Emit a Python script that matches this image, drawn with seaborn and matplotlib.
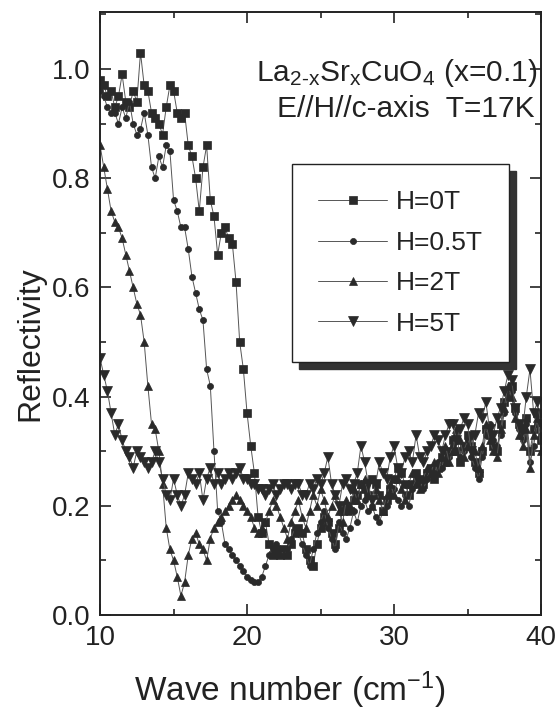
import matplotlib
matplotlib.use("Agg")
import matplotlib.pyplot as plt
import seaborn as sns
import pandas as pd
from matplotlib.ticker import MultipleLocator

# ---------------- data ----------------
wavenumber = [
    10.0, 10.25, 10.5, 10.75, 11.0, 11.25, 11.5, 11.75, 12.0, 12.25, 12.5, 12.75,
    13.0, 13.25, 13.5, 13.75, 14.0, 14.25, 14.5, 14.75, 15.0, 15.25, 15.5, 15.75,
    16.0, 16.25, 16.5, 16.75, 17.0, 17.25, 17.5, 17.75, 18.0, 18.25, 18.5, 18.75,
    19.0, 19.25, 19.5, 19.75, 20.0, 20.25, 20.5, 20.75, 21.0, 21.25, 21.5, 21.75,
    22.0, 22.25, 22.5, 22.75, 23.0, 23.25, 23.5, 23.75, 24.0, 24.25, 24.5, 24.75,
    25.0, 25.25, 25.5, 25.75, 26.0, 26.25, 26.5, 26.75, 27.0, 27.25, 27.5, 27.75,
    28.0, 28.25, 28.5, 28.75, 29.0, 29.25, 29.5, 29.75, 30.0, 30.25, 30.5, 30.75,
    31.0, 31.25, 31.5, 31.75, 32.0, 32.25, 32.5, 32.75, 33.0, 33.25, 33.5, 33.75,
    34.0, 34.25, 34.5, 34.75, 35.0, 35.25, 35.5, 35.75, 36.0, 36.25, 36.5, 36.75,
    37.0, 37.25, 37.5, 37.75, 38.0, 38.25, 38.5, 38.75, 39.0, 39.25, 39.5, 39.75,
    40.0,
]

refl_0T = [
    0.98, 0.97, 0.95, 0.96, 0.93, 0.95, 0.99, 0.94, 0.93, 0.96, 0.94, 1.03,
    0.97, 0.96, 0.92, 0.91, 0.90, 0.88, 0.93, 0.97, 0.96, 0.92, 0.91, 0.92,
    0.86, 0.84, 0.80, 0.74, 0.82, 0.86, 0.76, 0.73, 0.66, 0.70, 0.71, 0.69,
    0.68, 0.61, 0.50, 0.45, 0.37, 0.31, 0.26, 0.18, 0.15, 0.17, 0.13, 0.11,
    0.12, 0.11, 0.12, 0.11, 0.13, 0.15, 0.16, 0.15, 0.12, 0.10, 0.09, 0.13,
    0.16, 0.18, 0.17, 0.15, 0.13, 0.16, 0.19, 0.20, 0.19, 0.21, 0.22, 0.24,
    0.23, 0.22, 0.25, 0.24, 0.22, 0.19, 0.21, 0.23, 0.25, 0.27, 0.26, 0.24,
    0.22, 0.24, 0.26, 0.25, 0.24, 0.26, 0.27, 0.25, 0.27, 0.29, 0.28, 0.30,
    0.32, 0.30, 0.28, 0.31, 0.33, 0.31, 0.28, 0.26, 0.30, 0.34, 0.33, 0.31,
    0.30, 0.35, 0.39, 0.41, 0.42, 0.38, 0.35, 0.33, 0.36, 0.30, 0.34, 0.37,
    0.32,
]

refl_05T = [
    0.96, 0.95, 0.93, 0.92, 0.92, 0.90, 0.93, 0.91, 0.94, 0.90, 0.88, 0.89,
    0.92, 0.88, 0.82, 0.80, 0.84, 0.82, 0.86, 0.85, 0.76, 0.74, 0.71, 0.71,
    0.67, 0.62, 0.59, 0.56, 0.54, 0.45, 0.42, 0.30, 0.19, 0.17, 0.13, 0.12,
    0.11, 0.10, 0.09, 0.08, 0.07, 0.065, 0.06, 0.06, 0.07, 0.09, 0.11, 0.12,
    0.13, 0.12, 0.11, 0.12, 0.14, 0.16, 0.15, 0.13, 0.11, 0.09, 0.12, 0.15,
    0.17, 0.19, 0.16, 0.14, 0.12, 0.17, 0.15, 0.14, 0.16, 0.19, 0.17, 0.20,
    0.21, 0.19, 0.20, 0.18, 0.17, 0.19, 0.20, 0.22, 0.23, 0.21, 0.20, 0.22,
    0.20, 0.23, 0.25, 0.24, 0.23, 0.25, 0.27, 0.26, 0.28, 0.27, 0.30, 0.29,
    0.31, 0.33, 0.29, 0.30, 0.32, 0.29, 0.27, 0.25, 0.29, 0.33, 0.35, 0.32,
    0.31, 0.33, 0.37, 0.40, 0.41, 0.37, 0.34, 0.32, 0.35, 0.28, 0.31, 0.35,
    0.33,
]

refl_2T = [
    0.86, 0.82, 0.78, 0.74, 0.72, 0.71, 0.69, 0.66, 0.63, 0.60, 0.57, 0.55,
    0.50, 0.42, 0.35, 0.34, 0.30, 0.24, 0.16, 0.12, 0.10, 0.07, 0.035, 0.06,
    0.11, 0.14, 0.15, 0.13, 0.12, 0.10, 0.14, 0.16, 0.17, 0.18, 0.19, 0.20,
    0.21, 0.22, 0.21, 0.20, 0.19, 0.18, 0.16, 0.15, 0.16, 0.17, 0.19, 0.21,
    0.20, 0.18, 0.16, 0.14, 0.17, 0.19, 0.21, 0.18, 0.16, 0.19, 0.22, 0.20,
    0.23, 0.21, 0.18, 0.20, 0.22, 0.19, 0.17, 0.21, 0.20, 0.23, 0.21, 0.24,
    0.25, 0.22, 0.20, 0.23, 0.21, 0.19, 0.22, 0.24, 0.22, 0.25, 0.23, 0.21,
    0.24, 0.26, 0.24, 0.23, 0.25, 0.27, 0.26, 0.28, 0.26, 0.29, 0.31, 0.28,
    0.30, 0.34, 0.32, 0.29, 0.31, 0.33, 0.30, 0.27, 0.31, 0.35, 0.32, 0.30,
    0.29, 0.34, 0.38, 0.42, 0.40, 0.36, 0.33, 0.31, 0.34, 0.27, 0.33, 0.36,
    0.30,
]

refl_5T = [
    0.47, 0.44, 0.41, 0.37, 0.33, 0.35, 0.32, 0.30, 0.29, 0.27, 0.30, 0.29,
    0.28, 0.27, 0.28, 0.30, 0.28, 0.25, 0.22, 0.21, 0.25, 0.22, 0.20, 0.22,
    0.26, 0.25, 0.24, 0.26, 0.21, 0.25, 0.27, 0.24, 0.26, 0.24, 0.25, 0.26,
    0.25, 0.26, 0.27, 0.25, 0.25, 0.24, 0.24, 0.23, 0.23, 0.22, 0.23, 0.24,
    0.22, 0.23, 0.24, 0.24, 0.23, 0.24, 0.24, 0.22, 0.22, 0.24, 0.23, 0.25,
    0.24, 0.26, 0.29, 0.24, 0.22, 0.20, 0.24, 0.25, 0.23, 0.24, 0.26, 0.31,
    0.28, 0.24, 0.21, 0.24, 0.28, 0.26, 0.25, 0.29, 0.31, 0.27, 0.26, 0.29,
    0.30, 0.28, 0.33, 0.29, 0.28, 0.30, 0.31, 0.33, 0.32, 0.30, 0.33, 0.35,
    0.35, 0.32, 0.34, 0.36, 0.35, 0.30, 0.33, 0.37, 0.36, 0.39, 0.34, 0.33,
    0.36, 0.38, 0.41, 0.44, 0.43, 0.38, 0.35, 0.34, 0.40, 0.45, 0.37, 0.39,
    0.35,
]

series_labels = ["H=0T", "H=0.5T", "H=2T", "H=5T"]
series_values = [refl_0T, refl_05T, refl_2T, refl_5T]
series_markers = ["s", "o", "^", "v"]
series_msize = [5.4, 4.4, 6.2, 6.7]

# ---------------- style ----------------
sns.set_theme(style="ticks")
plt.rcParams["font.family"] = ["Liberation Sans", "DejaVu Sans"]
plt.rcParams["mathtext.fontset"] = "custom"
plt.rcParams["mathtext.rm"] = "Liberation Sans"
plt.rcParams["mathtext.it"] = "Liberation Sans"
plt.rcParams["mathtext.default"] = "regular"

fig = plt.figure(figsize=(5.56, 7.21), dpi=100)
ax = fig.add_axes([0.18, 0.147, 0.793, 0.836])

ink = "#2a2a2a"
for lab, vals, mk, ms in zip(series_labels, series_values, series_markers, series_msize):
    df = pd.DataFrame({"Wave number": wavenumber, "Reflectivity": vals})
    sns.lineplot(data=df, x="Wave number", y="Reflectivity", ax=ax,
                 estimator=None, sort=False, label=lab,
                 color="#555555", linewidth=0.7,
                 marker=mk, markersize=ms, markerfacecolor=ink,
                 markeredgecolor=ink, markeredgewidth=0.5)

ax.set_xlim(10, 40)
ax.set_ylim(0.0, 1.104)
ax.xaxis.set_major_locator(MultipleLocator(10))
ax.xaxis.set_minor_locator(MultipleLocator(5))
ax.yaxis.set_major_locator(MultipleLocator(0.2))
ax.yaxis.set_minor_locator(MultipleLocator(0.1))
ax.yaxis.set_major_formatter(matplotlib.ticker.FormatStrFormatter("%.1f"))
ax.tick_params(which="both", direction="in", top=True, right=True,
               color="#222222", width=1.2)
ax.tick_params(which="major", length=8, labelsize=20, pad=7, labelcolor="#222222")
ax.tick_params(which="minor", length=4)
for sp in ax.spines.values():
    sp.set_linewidth(1.4)
    sp.set_color("#222222")

ax.set_xlabel("Wave number (cm$^{-1}$)", fontsize=24, color="#222222")
ax.set_ylabel("Reflectivity", fontsize=23, color="#222222")
ax.xaxis.set_label_coords(0.43, -0.091)
ax.yaxis.set_label_coords(-0.125, 0.45)

ax.text(0.991, 0.90, r"La$_{2\text{-}x}$Sr$_x$CuO$_4$ (x=0.1)", transform=ax.transAxes,
        ha="right", va="center", fontsize=21.5, color="#222222")
ax.text(0.986, 0.84, "E//H//c-axis  T=17K", transform=ax.transAxes,
        ha="right", va="center", fontsize=21.5, color="#222222")

leg = ax.legend(loc="upper left", bbox_to_anchor=(0.405, 0.77), fontsize=19,
                frameon=True, fancybox=False, numpoints=1,
                handlelength=2.6, handletextpad=0.35, borderpad=1.0,
                labelspacing=0.62,
                shadow={"ox": 5, "oy": -5, "color": "#333333", "alpha": 1.0})
leg.get_frame().set_edgecolor("#222222")
leg.get_frame().set_linewidth(1.0)
for t in leg.get_texts():
    t.set_color("#222222")

fig.savefig("out.png", dpi=100, facecolor="white")
